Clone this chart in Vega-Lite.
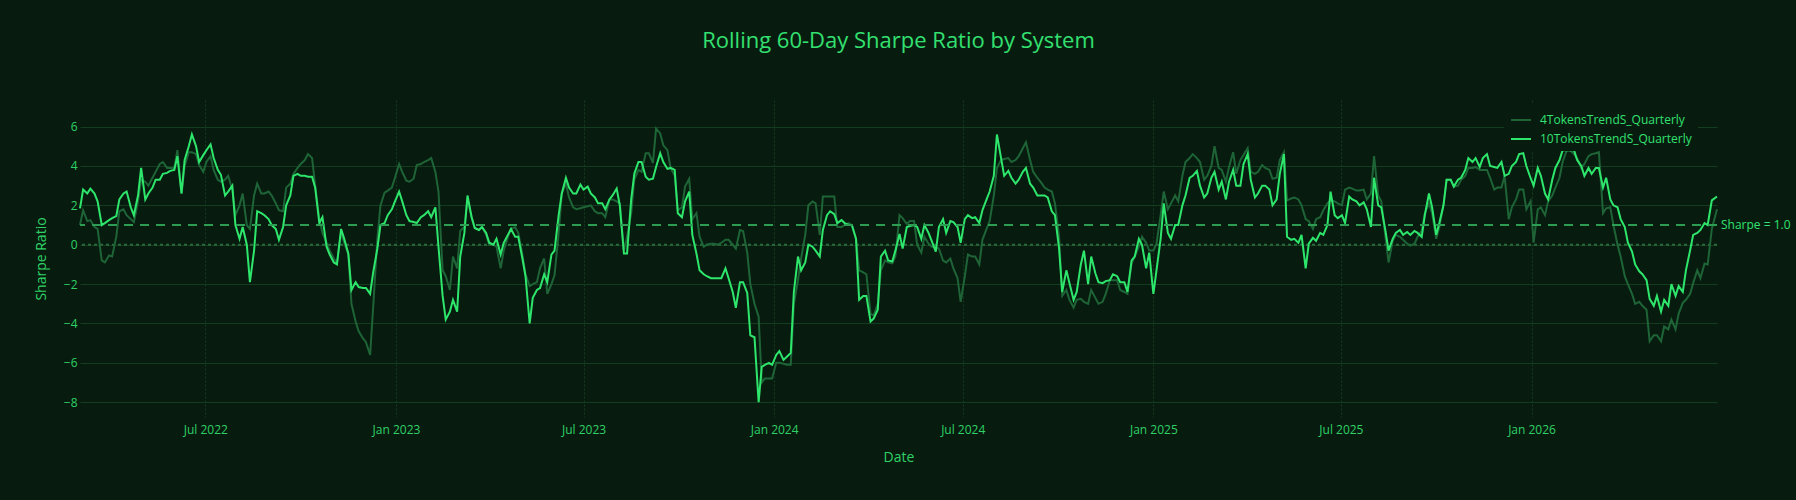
{
  "$schema": "https://vega.github.io/schema/vega-lite/v6.json",
  "width": 1637,
  "height": 317,
  "autosize": {"type": "none"},
  "padding": {"left": 80, "top": 100, "right": 79, "bottom": 83},
  "background": "#071c0f",
  "config": {
    "view": {"stroke": null, "fill": "#071c0f"},
    "font": "Open Sans",
    "axisX": {"grid": true, "gridColor": "#143d20", "gridDash": [2, 2], "gridWidth": 1, "domain": false, "ticks": false, "labelColor": "#2fd166", "labelFont": "Open Sans", "labelFontSize": 12, "labelPadding": 7, "titleColor": "#2fd166", "titleFont": "Open Sans", "titleFontSize": 14, "titleFontWeight": "normal", "titlePadding": 15},
    "axisY": {"grid": true, "gridColor": "#143d20", "gridWidth": 1, "domain": false, "ticks": false, "labelColor": "#2fd166", "labelFont": "Open Sans", "labelFontSize": 12, "labelPadding": 3, "titleColor": "#2fd166", "titleFont": "Open Sans", "titleFontSize": 14, "titleFontWeight": "normal", "titlePadding": 15}
  },
  "title": {"text": "Rolling 60-Day Sharpe Ratio by System", "font": "Open Sans", "fontSize": 22, "fontWeight": "normal", "color": "#33e070", "anchor": "middle", "offset": 47},
  "data": {"values": [
    {"date":"2022-03-02","s10":1.85,"s4":1.0},{"date":"2022-03-05","s10":2.8,"s4":1.75},{"date":"2022-03-09","s10":2.6,"s4":1.2},{"date":"2022-03-12","s10":2.85,"s4":1.25},{"date":"2022-03-16","s10":2.6,"s4":0.9},{"date":"2022-03-19","s10":2.2,"s4":0.8},{"date":"2022-03-23","s10":1.0,"s4":-0.8},{"date":"2022-03-26","s10":1.1,"s4":-0.9},{"date":"2022-03-30","s10":1.25,"s4":-0.55},{"date":"2022-04-02","s10":1.35,"s4":-0.6},{"date":"2022-04-06","s10":1.45,"s4":0.4},{"date":"2022-04-09","s10":2.3,"s4":1.7},{"date":"2022-04-13","s10":2.6,"s4":1.8},{"date":"2022-04-16","s10":2.7,"s4":1.5},{"date":"2022-04-20","s10":1.9,"s4":1.3},{"date":"2022-04-23","s10":1.5,"s4":1.15},{"date":"2022-04-27","s10":2.5,"s4":2.2},{"date":"2022-04-30","s10":3.9,"s4":3.3},{"date":"2022-05-04","s10":2.3,"s4":3.2},{"date":"2022-05-07","s10":2.6,"s4":3.0},{"date":"2022-05-11","s10":2.9,"s4":3.4},{"date":"2022-05-14","s10":3.3,"s4":3.7},{"date":"2022-05-18","s10":3.3,"s4":4.1},{"date":"2022-05-21","s10":3.6,"s4":4.2},{"date":"2022-05-25","s10":3.65,"s4":3.9},{"date":"2022-05-28","s10":3.75,"s4":3.9},{"date":"2022-06-01","s10":3.8,"s4":3.9},{"date":"2022-06-04","s10":4.5,"s4":4.8},{"date":"2022-06-08","s10":2.6,"s4":2.6},{"date":"2022-06-11","s10":4.3,"s4":4.0},{"date":"2022-06-15","s10":5.0,"s4":4.7},{"date":"2022-06-18","s10":5.6,"s4":4.7},{"date":"2022-06-22","s10":5.0,"s4":4.6},{"date":"2022-06-25","s10":4.2,"s4":4.05},{"date":"2022-06-29","s10":4.55,"s4":3.7},{"date":"2022-07-02","s10":4.8,"s4":4.2},{"date":"2022-07-06","s10":5.1,"s4":4.5},{"date":"2022-07-09","s10":4.4,"s4":3.8},{"date":"2022-07-13","s10":3.8,"s4":3.3},{"date":"2022-07-16","s10":3.55,"s4":3.2},{"date":"2022-07-20","s10":2.5,"s4":3.3},{"date":"2022-07-23","s10":2.7,"s4":3.5},{"date":"2022-07-27","s10":3.0,"s4":2.8},{"date":"2022-07-30","s10":1.0,"s4":1.5},{"date":"2022-08-03","s10":0.3,"s4":2.0},{"date":"2022-08-06","s10":0.9,"s4":2.6},{"date":"2022-08-10","s10":0.0,"s4":1.0},{"date":"2022-08-13","s10":-1.9,"s4":0.8},{"date":"2022-08-17","s10":-0.3,"s4":2.5},{"date":"2022-08-20","s10":1.7,"s4":3.1},{"date":"2022-08-24","s10":1.6,"s4":2.6},{"date":"2022-08-27","s10":1.5,"s4":2.6},{"date":"2022-08-31","s10":1.3,"s4":2.7},{"date":"2022-09-03","s10":1.0,"s4":2.5},{"date":"2022-09-07","s10":0.8,"s4":2.1},{"date":"2022-09-10","s10":0.25,"s4":1.75},{"date":"2022-09-14","s10":0.9,"s4":1.7},{"date":"2022-09-17","s10":2.0,"s4":2.9},{"date":"2022-09-21","s10":2.5,"s4":3.1},{"date":"2022-09-24","s10":3.5,"s4":3.6},{"date":"2022-09-28","s10":3.6,"s4":3.9},{"date":"2022-10-01","s10":3.5,"s4":4.1},{"date":"2022-10-05","s10":3.5,"s4":4.3},{"date":"2022-10-08","s10":3.45,"s4":4.6},{"date":"2022-10-12","s10":3.45,"s4":4.4},{"date":"2022-10-15","s10":2.9,"s4":3.0},{"date":"2022-10-19","s10":1.1,"s4":1.3},{"date":"2022-10-22","s10":1.4,"s4":0.6},{"date":"2022-10-26","s10":-0.1,"s4":0.1},{"date":"2022-10-29","s10":-0.5,"s4":-0.3},{"date":"2022-11-02","s10":-0.9,"s4":-0.7},{"date":"2022-11-05","s10":-1.0,"s4":-0.95},{"date":"2022-11-09","s10":0.8,"s4":0.6},{"date":"2022-11-12","s10":0.3,"s4":0.1},{"date":"2022-11-16","s10":-0.45,"s4":-0.5},{"date":"2022-11-19","s10":-2.3,"s4":-3.0},{"date":"2022-11-23","s10":-1.9,"s4":-3.9},{"date":"2022-11-26","s10":-2.15,"s4":-4.4},{"date":"2022-11-30","s10":-2.2,"s4":-4.75},{"date":"2022-12-03","s10":-2.2,"s4":-4.95},{"date":"2022-12-07","s10":-2.5,"s4":-5.6},{"date":"2022-12-10","s10":-1.4,"s4":-3.15},{"date":"2022-12-14","s10":-0.2,"s4":0.3},{"date":"2022-12-17","s10":1.0,"s4":2.0},{"date":"2022-12-21","s10":1.1,"s4":2.65},{"date":"2022-12-24","s10":1.5,"s4":2.75},{"date":"2022-12-28","s10":1.8,"s4":2.9},{"date":"2022-12-31","s10":2.2,"s4":3.4},
    {"date":"2023-01-04","s10":2.7,"s4":4.1},{"date":"2023-01-07","s10":2.2,"s4":3.7},{"date":"2023-01-11","s10":1.5,"s4":3.25},{"date":"2023-01-14","s10":1.2,"s4":3.2},{"date":"2023-01-18","s10":1.15,"s4":3.35},{"date":"2023-01-21","s10":1.1,"s4":4.05},{"date":"2023-01-25","s10":1.4,"s4":4.1},{"date":"2023-01-28","s10":1.5,"s4":4.2},{"date":"2023-02-01","s10":1.7,"s4":4.3},{"date":"2023-02-04","s10":1.4,"s4":4.4},{"date":"2023-02-08","s10":1.9,"s4":3.7},{"date":"2023-02-11","s10":-0.1,"s4":2.7},{"date":"2023-02-15","s10":-2.6,"s4":-1.3},{"date":"2023-02-18","s10":-3.8,"s4":-1.6},{"date":"2023-02-22","s10":-3.4,"s4":-2.3},{"date":"2023-02-25","s10":-2.8,"s4":-0.6},{"date":"2023-03-01","s10":-3.4,"s4":-1.2},{"date":"2023-03-04","s10":-0.6,"s4":0.7},{"date":"2023-03-08","s10":0.6,"s4":0.9},{"date":"2023-03-11","s10":2.5,"s4":2.3},{"date":"2023-03-15","s10":1.4,"s4":1.4},{"date":"2023-03-18","s10":0.85,"s4":0.85},{"date":"2023-03-22","s10":0.75,"s4":0.75},{"date":"2023-03-25","s10":0.9,"s4":0.9},{"date":"2023-03-29","s10":0.6,"s4":0.5},{"date":"2023-04-01","s10":0.1,"s4":0.0},{"date":"2023-04-05","s10":0.0,"s4":0.0},{"date":"2023-04-08","s10":0.3,"s4":-0.1},{"date":"2023-04-12","s10":-0.5,"s4":-1.2},{"date":"2023-04-15","s10":0.1,"s4":-0.3},{"date":"2023-04-19","s10":0.5,"s4":0.4},{"date":"2023-04-22","s10":0.8,"s4":0.8},{"date":"2023-04-26","s10":0.4,"s4":0.9},{"date":"2023-04-29","s10":0.4,"s4":0.6},{"date":"2023-05-03","s10":-0.7,"s4":-0.5},{"date":"2023-05-06","s10":-1.6,"s4":-1.5},{"date":"2023-05-10","s10":-4.0,"s4":-2.1},{"date":"2023-05-13","s10":-2.7,"s4":-2.0},{"date":"2023-05-17","s10":-2.3,"s4":-1.9},{"date":"2023-05-20","s10":-2.2,"s4":-1.2},{"date":"2023-05-24","s10":-1.5,"s4":-0.7},{"date":"2023-05-27","s10":-1.9,"s4":-2.5},{"date":"2023-05-31","s10":-0.5,"s4":-2.0},{"date":"2023-06-03","s10":-0.3,"s4":-1.55},{"date":"2023-06-07","s10":1.5,"s4":0.6},{"date":"2023-06-10","s10":2.6,"s4":2.6},{"date":"2023-06-14","s10":3.4,"s4":3.1},{"date":"2023-06-17","s10":2.9,"s4":2.4},{"date":"2023-06-21","s10":2.6,"s4":1.9},{"date":"2023-06-24","s10":2.6,"s4":1.8},{"date":"2023-06-28","s10":3.05,"s4":1.85},{"date":"2023-07-01","s10":2.8,"s4":1.9},{"date":"2023-07-05","s10":2.95,"s4":1.95},{"date":"2023-07-08","s10":2.6,"s4":2.0},{"date":"2023-07-12","s10":2.4,"s4":1.7},{"date":"2023-07-15","s10":2.1,"s4":1.6},{"date":"2023-07-19","s10":2.1,"s4":1.6},{"date":"2023-07-22","s10":1.8,"s4":1.4},{"date":"2023-07-26","s10":2.3,"s4":2.3},{"date":"2023-07-29","s10":2.5,"s4":2.3},{"date":"2023-08-02","s10":2.85,"s4":2.2},{"date":"2023-08-05","s10":2.0,"s4":2.1},{"date":"2023-08-09","s10":-0.45,"s4":-0.3},{"date":"2023-08-12","s10":-0.45,"s4":0.4},{"date":"2023-08-16","s10":2.3,"s4":1.6},{"date":"2023-08-19","s10":3.6,"s4":3.3},{"date":"2023-08-23","s10":4.2,"s4":3.8},{"date":"2023-08-26","s10":4.2,"s4":3.7},{"date":"2023-08-30","s10":3.45,"s4":4.65},{"date":"2023-09-02","s10":3.3,"s4":4.65},{"date":"2023-09-06","s10":3.35,"s4":4.15},{"date":"2023-09-09","s10":3.95,"s4":5.9},{"date":"2023-09-13","s10":4.65,"s4":5.65},{"date":"2023-09-16","s10":4.2,"s4":5.05},{"date":"2023-09-20","s10":3.85,"s4":4.8},{"date":"2023-09-23","s10":3.9,"s4":3.9},{"date":"2023-09-27","s10":3.8,"s4":3.5},{"date":"2023-09-30","s10":1.6,"s4":1.75},{"date":"2023-10-04","s10":1.4,"s4":1.9},{"date":"2023-10-07","s10":2.2,"s4":2.95},{"date":"2023-10-11","s10":2.7,"s4":3.35},{"date":"2023-10-14","s10":0.5,"s4":1.3},{"date":"2023-10-18","s10":-0.45,"s4":1.6},{"date":"2023-10-21","s10":-1.3,"s4":0.4},{"date":"2023-10-25","s10":-1.5,"s4":-0.1},{"date":"2023-10-28","s10":-1.6,"s4":0.0},{"date":"2023-11-01","s10":-1.7,"s4":0.05},{"date":"2023-11-04","s10":-1.7,"s4":0.05},{"date":"2023-11-08","s10":-1.7,"s4":0.0},{"date":"2023-11-11","s10":-1.7,"s4":0.1},{"date":"2023-11-15","s10":-1.2,"s4":0.25},{"date":"2023-11-18","s10":-1.7,"s4":0.25},{"date":"2023-11-22","s10":-2.4,"s4":0.0},{"date":"2023-11-25","s10":-3.2,"s4":-0.2},{"date":"2023-11-29","s10":-1.9,"s4":0.75},{"date":"2023-12-02","s10":-1.9,"s4":0.7},{"date":"2023-12-06","s10":-2.45,"s4":-0.4},{"date":"2023-12-09","s10":-4.6,"s4":-2.0},{"date":"2023-12-13","s10":-4.7,"s4":-3.0},{"date":"2023-12-17","s10":-8.0,"s4":-3.65},{"date":"2023-12-20","s10":-6.2,"s4":-7.0},{"date":"2023-12-23","s10":-6.1,"s4":-6.8},{"date":"2023-12-27","s10":-6.0,"s4":-6.8},{"date":"2023-12-30","s10":-6.1,"s4":-6.8},
    {"date":"2024-01-03","s10":-5.6,"s4":-6.0},{"date":"2024-01-06","s10":-5.4,"s4":-6.0},{"date":"2024-01-10","s10":-5.85,"s4":-6.05},{"date":"2024-01-13","s10":-5.7,"s4":-6.1},{"date":"2024-01-17","s10":-5.5,"s4":-6.1},{"date":"2024-01-20","s10":-2.4,"s4":-3.0},{"date":"2024-01-24","s10":-0.6,"s4":-1.8},{"date":"2024-01-27","s10":-1.3,"s4":-0.7},{"date":"2024-01-31","s10":-0.9,"s4":0.5},{"date":"2024-02-03","s10":0.0,"s4":2.0},{"date":"2024-02-07","s10":-0.1,"s4":2.2},{"date":"2024-02-10","s10":-0.3,"s4":2.1},{"date":"2024-02-14","s10":-0.6,"s4":0.5},{"date":"2024-02-17","s10":0.75,"s4":2.45},{"date":"2024-02-21","s10":1.5,"s4":2.45},{"date":"2024-02-24","s10":1.7,"s4":2.45},{"date":"2024-02-28","s10":1.55,"s4":2.45},{"date":"2024-03-02","s10":1.1,"s4":0.9},{"date":"2024-03-06","s10":1.25,"s4":0.9},{"date":"2024-03-09","s10":1.1,"s4":1.0},{"date":"2024-03-13","s10":1.0,"s4":1.1},{"date":"2024-03-16","s10":1.0,"s4":1.0},{"date":"2024-03-20","s10":0.3,"s4":0.3},{"date":"2024-03-23","s10":-2.8,"s4":-1.3},{"date":"2024-03-27","s10":-2.6,"s4":-1.4},{"date":"2024-03-30","s10":-2.6,"s4":-1.5},{"date":"2024-04-03","s10":-3.9,"s4":-3.5},{"date":"2024-04-06","s10":-3.75,"s4":-3.6},{"date":"2024-04-10","s10":-3.3,"s4":-3.0},{"date":"2024-04-13","s10":-0.6,"s4":-1.3},{"date":"2024-04-17","s10":-0.3,"s4":-0.8},{"date":"2024-04-20","s10":-0.8,"s4":-0.9},{"date":"2024-04-24","s10":-0.85,"s4":-0.95},{"date":"2024-04-27","s10":-0.3,"s4":-0.6},{"date":"2024-05-01","s10":0.55,"s4":1.5},{"date":"2024-05-04","s10":-0.2,"s4":1.35},{"date":"2024-05-08","s10":0.9,"s4":1.05},{"date":"2024-05-11","s10":0.95,"s4":1.2},{"date":"2024-05-15","s10":1.0,"s4":1.2},{"date":"2024-05-18","s10":0.9,"s4":0.0},{"date":"2024-05-22","s10":0.3,"s4":-0.4},{"date":"2024-05-25","s10":1.0,"s4":0.4},{"date":"2024-05-29","s10":0.6,"s4":0.05},{"date":"2024-06-01","s10":0.2,"s4":-0.1},{"date":"2024-06-05","s10":-0.35,"s4":-0.1},{"date":"2024-06-08","s10":0.9,"s4":-0.2},{"date":"2024-06-12","s10":1.3,"s4":-0.8},{"date":"2024-06-15","s10":0.6,"s4":-0.9},{"date":"2024-06-19","s10":1.2,"s4":-0.7},{"date":"2024-06-22","s10":1.15,"s4":-1.2},{"date":"2024-06-26","s10":0.9,"s4":-1.7},{"date":"2024-06-29","s10":0.1,"s4":-2.9},{"date":"2024-07-03","s10":1.3,"s4":-1.6},{"date":"2024-07-06","s10":1.5,"s4":-0.5},{"date":"2024-07-10","s10":1.35,"s4":-0.6},{"date":"2024-07-13","s10":1.4,"s4":-0.6},{"date":"2024-07-17","s10":1.1,"s4":-1.0},{"date":"2024-07-20","s10":1.75,"s4":0.25},{"date":"2024-07-24","s10":2.3,"s4":0.8},{"date":"2024-07-27","s10":2.7,"s4":1.2},{"date":"2024-07-31","s10":3.5,"s4":2.5},{"date":"2024-08-03","s10":5.6,"s4":3.9},{"date":"2024-08-07","s10":4.4,"s4":4.3},{"date":"2024-08-10","s10":3.5,"s4":4.35},{"date":"2024-08-14","s10":3.75,"s4":4.4},{"date":"2024-08-17","s10":3.4,"s4":4.2},{"date":"2024-08-21","s10":3.1,"s4":4.3},{"date":"2024-08-24","s10":3.3,"s4":4.5},{"date":"2024-08-28","s10":3.7,"s4":4.9},{"date":"2024-08-31","s10":3.9,"s4":5.2},{"date":"2024-09-04","s10":3.1,"s4":4.3},{"date":"2024-09-07","s10":2.9,"s4":3.7},{"date":"2024-09-11","s10":2.5,"s4":3.4},{"date":"2024-09-14","s10":2.5,"s4":3.2},{"date":"2024-09-18","s10":2.5,"s4":2.9},{"date":"2024-09-21","s10":2.4,"s4":2.8},{"date":"2024-09-25","s10":1.7,"s4":2.7},{"date":"2024-09-28","s10":1.5,"s4":2.1},{"date":"2024-10-02","s10":-0.2,"s4":0.4},{"date":"2024-10-05","s10":-2.4,"s4":-2.6},{"date":"2024-10-09","s10":-1.3,"s4":-2.3},{"date":"2024-10-12","s10":-1.95,"s4":-2.8},{"date":"2024-10-16","s10":-2.8,"s4":-3.2},{"date":"2024-10-19","s10":-2.4,"s4":-2.8},{"date":"2024-10-23","s10":-1.0,"s4":-2.75},{"date":"2024-10-26","s10":-0.3,"s4":-2.9},{"date":"2024-10-30","s10":-2.0,"s4":-3.0},{"date":"2024-11-02","s10":-0.6,"s4":-2.3},{"date":"2024-11-06","s10":-1.45,"s4":-2.7},{"date":"2024-11-09","s10":-1.9,"s4":-3.0},{"date":"2024-11-13","s10":-1.95,"s4":-2.9},{"date":"2024-11-16","s10":-1.85,"s4":-2.5},{"date":"2024-11-20","s10":-1.8,"s4":-1.8},{"date":"2024-11-23","s10":-1.5,"s4":-1.8},{"date":"2024-11-27","s10":-1.6,"s4":-1.8},{"date":"2024-11-30","s10":-1.9,"s4":-2.3},{"date":"2024-12-04","s10":-1.9,"s4":-2.4},{"date":"2024-12-07","s10":-2.4,"s4":-2.5},{"date":"2024-12-11","s10":-0.8,"s4":-0.95},{"date":"2024-12-14","s10":-0.6,"s4":-0.6},{"date":"2024-12-18","s10":0.3,"s4":-0.1},{"date":"2024-12-21","s10":0.0,"s4":0.4},{"date":"2024-12-25","s10":-1.2,"s4":0.1},{"date":"2024-12-28","s10":-0.4,"s4":-0.3},
    {"date":"2025-01-01","s10":-2.5,"s4":-0.3},{"date":"2025-01-04","s10":-1.3,"s4":0.05},{"date":"2025-01-08","s10":0.3,"s4":1.5},{"date":"2025-01-11","s10":2.1,"s4":2.7},{"date":"2025-01-15","s10":0.6,"s4":1.8},{"date":"2025-01-18","s10":0.3,"s4":2.1},{"date":"2025-01-22","s10":1.0,"s4":2.5},{"date":"2025-01-25","s10":1.0,"s4":2.2},{"date":"2025-01-29","s10":2.0,"s4":3.5},{"date":"2025-02-01","s10":2.5,"s4":4.2},{"date":"2025-02-05","s10":3.4,"s4":4.4},{"date":"2025-02-08","s10":3.5,"s4":4.6},{"date":"2025-02-12","s10":3.75,"s4":4.4},{"date":"2025-02-15","s10":3.0,"s4":4.2},{"date":"2025-02-19","s10":2.4,"s4":3.3},{"date":"2025-02-22","s10":2.6,"s4":3.5},{"date":"2025-02-26","s10":3.4,"s4":4.0},{"date":"2025-03-01","s10":3.7,"s4":5.0},{"date":"2025-03-05","s10":2.8,"s4":3.9},{"date":"2025-03-08","s10":3.2,"s4":3.8},{"date":"2025-03-12","s10":2.3,"s4":3.2},{"date":"2025-03-15","s10":3.2,"s4":3.95},{"date":"2025-03-19","s10":3.8,"s4":4.7},{"date":"2025-03-22","s10":3.0,"s4":3.6},{"date":"2025-03-26","s10":3.0,"s4":4.3},{"date":"2025-03-29","s10":4.1,"s4":4.55},{"date":"2025-04-02","s10":4.6,"s4":4.9},{"date":"2025-04-05","s10":3.3,"s4":3.7},{"date":"2025-04-09","s10":2.4,"s4":3.6},{"date":"2025-04-12","s10":2.6,"s4":3.7},{"date":"2025-04-16","s10":3.0,"s4":4.05},{"date":"2025-04-19","s10":3.0,"s4":3.9},{"date":"2025-04-23","s10":2.8,"s4":3.8},{"date":"2025-04-26","s10":2.0,"s4":3.35},{"date":"2025-04-30","s10":2.3,"s4":3.4},{"date":"2025-05-03","s10":3.6,"s4":4.3},{"date":"2025-05-07","s10":4.6,"s4":4.7},{"date":"2025-05-10","s10":0.4,"s4":2.25},{"date":"2025-05-14","s10":0.25,"s4":2.35},{"date":"2025-05-17","s10":0.3,"s4":2.4},{"date":"2025-05-21","s10":0.1,"s4":2.3},{"date":"2025-05-24","s10":0.5,"s4":2.0},{"date":"2025-05-28","s10":-1.2,"s4":1.3},{"date":"2025-05-31","s10":0.05,"s4":1.2},{"date":"2025-06-04","s10":0.35,"s4":0.8},{"date":"2025-06-07","s10":0.2,"s4":1.3},{"date":"2025-06-11","s10":0.6,"s4":1.4},{"date":"2025-06-14","s10":0.5,"s4":1.75},{"date":"2025-06-18","s10":1.0,"s4":2.1},{"date":"2025-06-21","s10":2.7,"s4":2.25},{"date":"2025-06-25","s10":1.5,"s4":2.2},{"date":"2025-06-28","s10":1.35,"s4":2.1},{"date":"2025-07-02","s10":1.5,"s4":2.0},{"date":"2025-07-05","s10":1.1,"s4":2.8},{"date":"2025-07-09","s10":2.45,"s4":2.9},{"date":"2025-07-12","s10":2.3,"s4":2.85},{"date":"2025-07-16","s10":2.2,"s4":2.75},{"date":"2025-07-19","s10":2.0,"s4":2.75},{"date":"2025-07-23","s10":2.15,"s4":2.8},{"date":"2025-07-26","s10":1.8,"s4":2.3},{"date":"2025-07-30","s10":0.9,"s4":2.6},{"date":"2025-08-02","s10":3.4,"s4":4.5},{"date":"2025-08-06","s10":2.0,"s4":2.5},{"date":"2025-08-09","s10":1.9,"s4":2.2},{"date":"2025-08-13","s10":0.7,"s4":0.4},{"date":"2025-08-16","s10":-0.3,"s4":-0.9},{"date":"2025-08-20","s10":0.3,"s4":0.2},{"date":"2025-08-23","s10":0.6,"s4":0.5},{"date":"2025-08-27","s10":0.75,"s4":0.4},{"date":"2025-08-30","s10":0.5,"s4":0.25},{"date":"2025-09-03","s10":0.65,"s4":0.05},{"date":"2025-09-06","s10":0.5,"s4":-0.05},{"date":"2025-09-10","s10":0.7,"s4":0.05},{"date":"2025-09-13","s10":0.6,"s4":0.4},{"date":"2025-09-17","s10":0.4,"s4":0.7},{"date":"2025-09-20","s10":1.5,"s4":1.6},{"date":"2025-09-24","s10":2.6,"s4":2.1},{"date":"2025-09-27","s10":1.9,"s4":1.6},{"date":"2025-10-01","s10":0.5,"s4":0.3},{"date":"2025-10-04","s10":1.1,"s4":0.9},{"date":"2025-10-08","s10":2.0,"s4":2.0},{"date":"2025-10-11","s10":3.3,"s4":3.3},{"date":"2025-10-15","s10":3.3,"s4":3.3},{"date":"2025-10-18","s10":2.95,"s4":2.95},{"date":"2025-10-22","s10":3.3,"s4":3.0},{"date":"2025-10-25","s10":3.4,"s4":3.3},{"date":"2025-10-29","s10":3.8,"s4":3.5},{"date":"2025-11-01","s10":4.4,"s4":3.9},{"date":"2025-11-05","s10":4.2,"s4":3.9},{"date":"2025-11-08","s10":4.4,"s4":3.95},{"date":"2025-11-12","s10":3.95,"s4":3.8},{"date":"2025-11-15","s10":4.4,"s4":3.8},{"date":"2025-11-19","s10":4.6,"s4":3.8},{"date":"2025-11-22","s10":4.0,"s4":3.4},{"date":"2025-11-26","s10":3.95,"s4":2.8},{"date":"2025-11-29","s10":3.9,"s4":2.9},{"date":"2025-12-03","s10":4.2,"s4":2.9},{"date":"2025-12-06","s10":3.5,"s4":3.5},{"date":"2025-12-10","s10":3.6,"s4":1.3},{"date":"2025-12-13","s10":4.0,"s4":1.9},{"date":"2025-12-17","s10":4.2,"s4":2.3},{"date":"2025-12-20","s10":4.6,"s4":2.8},{"date":"2025-12-24","s10":4.65,"s4":2.8},{"date":"2025-12-27","s10":4.0,"s4":1.8},{"date":"2025-12-31","s10":3.4,"s4":2.2},
    {"date":"2026-01-03","s10":3.0,"s4":0.1},{"date":"2026-01-07","s10":3.9,"s4":1.8},{"date":"2026-01-10","s10":3.5,"s4":1.9},{"date":"2026-01-14","s10":2.6,"s4":1.5},{"date":"2026-01-17","s10":2.3,"s4":2.2},{"date":"2026-01-21","s10":3.3,"s4":2.5},{"date":"2026-01-24","s10":3.9,"s4":2.9},{"date":"2026-01-28","s10":4.3,"s4":3.4},{"date":"2026-01-31","s10":4.8,"s4":4.2},{"date":"2026-02-04","s10":4.8,"s4":4.8},{"date":"2026-02-07","s10":4.8,"s4":4.8},{"date":"2026-02-11","s10":4.8,"s4":4.6},{"date":"2026-02-14","s10":4.3,"s4":4.4},{"date":"2026-02-18","s10":4.0,"s4":3.9},{"date":"2026-02-21","s10":3.5,"s4":4.1},{"date":"2026-02-25","s10":3.9,"s4":4.5},{"date":"2026-02-28","s10":3.6,"s4":4.6},{"date":"2026-03-04","s10":3.9,"s4":4.65},{"date":"2026-03-07","s10":3.9,"s4":4.7},{"date":"2026-03-11","s10":2.9,"s4":1.6},{"date":"2026-03-14","s10":3.4,"s4":1.85},{"date":"2026-03-18","s10":2.3,"s4":1.9},{"date":"2026-03-21","s10":2.0,"s4":1.0},{"date":"2026-03-25","s10":1.9,"s4":0.0},{"date":"2026-03-28","s10":1.3,"s4":-0.6},{"date":"2026-04-01","s10":0.9,"s4":-1.6},{"date":"2026-04-04","s10":0.1,"s4":-2.0},{"date":"2026-04-08","s10":-0.35,"s4":-2.5},{"date":"2026-04-11","s10":-1.0,"s4":-3.0},{"date":"2026-04-15","s10":-1.35,"s4":-2.9},{"date":"2026-04-18","s10":-1.5,"s4":-3.1},{"date":"2026-04-22","s10":-1.8,"s4":-3.3},{"date":"2026-04-25","s10":-2.75,"s4":-4.9},{"date":"2026-04-29","s10":-3.1,"s4":-4.6},{"date":"2026-05-02","s10":-2.6,"s4":-4.6},{"date":"2026-05-06","s10":-3.4,"s4":-4.9},{"date":"2026-05-09","s10":-2.8,"s4":-4.15},{"date":"2026-05-13","s10":-3.1,"s4":-4.3},{"date":"2026-05-16","s10":-2.0,"s4":-3.8},{"date":"2026-05-20","s10":-2.6,"s4":-4.3},{"date":"2026-05-23","s10":-2.1,"s4":-3.5},{"date":"2026-05-27","s10":-2.4,"s4":-2.95},{"date":"2026-05-30","s10":-1.3,"s4":-2.8},{"date":"2026-06-03","s10":-0.3,"s4":-2.5},{"date":"2026-06-06","s10":0.5,"s4":-1.95},{"date":"2026-06-10","s10":0.6,"s4":-1.3},{"date":"2026-06-13","s10":0.75,"s4":-1.7},{"date":"2026-06-17","s10":1.1,"s4":-0.95},{"date":"2026-06-20","s10":1.0,"s4":-1.0},{"date":"2026-06-24","s10":2.25,"s4":0.8},{"date":"2026-06-29","s10":2.45,"s4":1.8}
  ]},
  "encoding": {
    "x": {"field": "date", "type": "temporal", "title": "Date", "scale": {"domain": [{"year": 2022, "month": 3, "date": 2}, {"year": 2026, "month": 6, "date": 29}]}, "axis": {"format": "%b %Y", "tickCount": {"interval": "month", "step": 6}, "labelOverlap": false, "labelFlush": false}}
  },
  "layer": [
    {
      "data": {"values": [{"level": 0}]},
      "mark": {"type": "rule", "color": "#2a6a3c", "strokeWidth": 2, "strokeDash": [3, 3]},
      "encoding": {"x": null, "y": {"field": "level", "type": "quantitative"}}
    },
    {
      "mark": {"type": "line", "strokeWidth": 2, "interpolate": "linear"},
      "encoding": {
        "y": {"field": "s4", "type": "quantitative", "title": "Sharpe Ratio", "scale": {"domain": [-8.75, 7.35], "nice": false, "zero": false}, "axis": {"values": [-8, -6, -4, -2, 0, 2, 4, 6]}},
        "color": {"datum": "4TokensTrendS_Quarterly", "type": "nominal", "scale": {"domain": ["4TokensTrendS_Quarterly", "10TokensTrendS_Quarterly"], "range": ["#1e6437", "#2ee66b"]}, "legend": {"title": null, "orient": "none", "legendX": 1424, "legendY": 3, "zindex": 5, "fillColor": "#071c0f", "padding": 6, "symbolType": "stroke", "symbolStrokeWidth": 2, "symbolSize": 400, "labelFont": "Open Sans", "labelFontSize": 12, "labelColor": "#33e070", "labelLimit": 300, "labelOffset": 8, "rowPadding": 2}}
      }
    },
    {
      "mark": {"type": "line", "strokeWidth": 2, "interpolate": "linear"},
      "encoding": {
        "y": {"field": "s10", "type": "quantitative"},
        "color": {"datum": "10TokensTrendS_Quarterly", "type": "nominal"}
      }
    },
    {
      "data": {"values": [{"level": 1, "label": "Sharpe = 1.0", "date": "2026-06-29"}]},
      "layer": [
        {"mark": {"type": "rule", "color": "#2c9d52", "strokeWidth": 2, "strokeDash": [9, 7]}, "encoding": {"x": null, "y": {"field": "level", "type": "quantitative"}}},
        {"mark": {"type": "text", "align": "left", "baseline": "middle", "dx": 4, "clip": false, "font": "Open Sans", "fontSize": 12, "color": "#33e070"}, "encoding": {"y": {"field": "level", "type": "quantitative"}, "text": {"field": "label", "type": "nominal"}}}
      ]
    }
  ]
}
